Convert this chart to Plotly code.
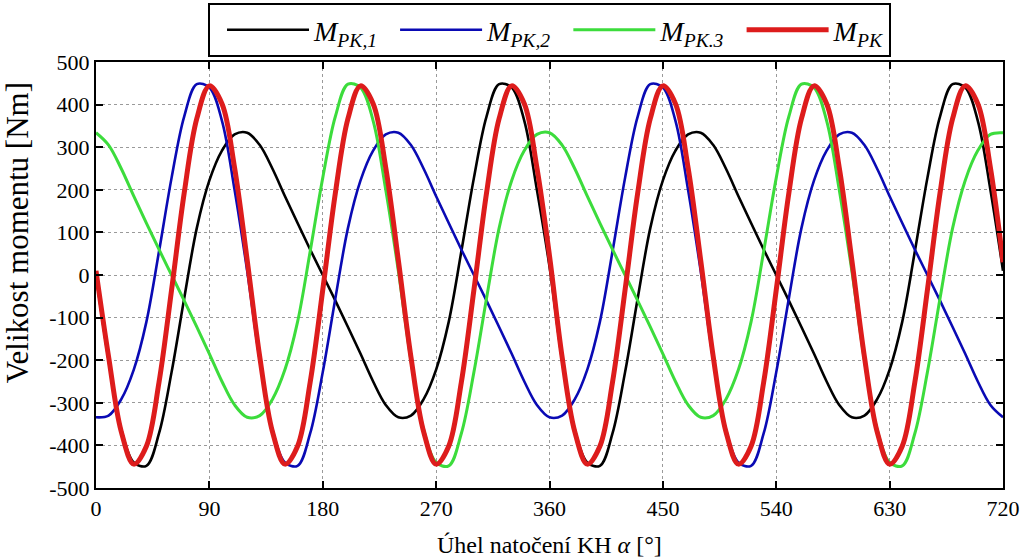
import plotly.graph_objects as go

# crank angle [deg]
angle = list(range(0, 721, 10))

# M_PK,1 (black)
m_pk1 = [0, -200, -362, -440, -448, -372, -228, -55, 110, 222, 292, 330, 334, 305, 250, 185, 122, 60,
         0, -60, -122, -185, -250, -305, -334, -330, -292, -222, -110, 55, 228, 372, 448, 440, 362, 200,
         20, -200, -362, -440, -448, -372, -228, -55, 110, 222, 292, 330, 334, 305, 250, 185, 122, 60,
         0, -60, -122, -185, -250, -305, -334, -330, -292, -222, -110, 55, 228, 372, 448, 440, 362, 200,
         10]

# M_PK,2 (blue)
m_pk2 = [-334, -330, -292, -222, -110, 55, 228, 372, 448, 440, 362, 200,
         10, -200, -362, -440, -448, -372, -228, -55, 110, 222, 292, 330, 334, 305, 250, 185, 122, 60,
         0, -60, -122, -185, -250, -305, -334, -330, -292, -222, -110, 55, 228, 372, 448, 440, 362, 200,
         10, -200, -362, -440, -448, -372, -228, -55, 110, 222, 292, 330, 334, 305, 250, 185, 122, 60,
         0, -60, -122, -185, -250, -305,
         -334]

# M_PK.3 (green)
m_pk3 = [334, 305, 250, 185, 122, 60, 0, -60, -122, -185, -250, -305, -334, -330, -292, -222, -110, 55,
         228, 372, 448, 440, 362, 200,
         10, -200, -362, -440, -448, -372, -228, -55, 110, 222, 292, 330, 334, 305, 250, 185, 122, 60,
         0, -60, -122, -185, -250, -305, -334, -330, -292, -222, -110, 55, 228, 372, 448, 440, 362, 200,
         10, -200, -362, -440, -448, -372, -228, -55, 110, 222, 292, 330,
         334]

# M_PK (red)
m_pk = [10, -192, -367, -444, -402, -252, -35, 192, 367, 444, 402, 252,
        35, -192, -367, -444, -402, -252, -35, 192, 367, 444, 402, 252,
        35, -192, -367, -444, -402, -252, -35, 192, 367, 444, 402, 252,
        45, -192, -367, -444, -402, -252, -35, 192, 367, 444, 402, 252,
        35, -192, -367, -444, -402, -252, -35, 192, 367, 444, 402, 252,
        35, -192, -367, -444, -402, -252, -35, 192, 367, 444, 402, 252,
        30]

x_ticks = [0, 90, 180, 270, 360, 450, 540, 630, 720]
y_ticks = [-500, -400, -300, -200, -100, 0, 100, 200, 300, 400, 500]

series = [
    ("<i>M</i><sub><i>PK,1</i></sub>", m_pk1, "#000000", 2.6),
    ("<i>M</i><sub><i>PK,2</i></sub>", m_pk2, "#0A0AB4", 2.6),
    ("<i>M</i><sub><i>PK.3</i></sub>", m_pk3, "#3CDC3C", 3.0),
    ("<i>M</i><sub><i>PK</i></sub>", m_pk, "#DD1C1C", 5.0),
]

FONT = "Liberation Serif, Times New Roman, serif"

fig = go.Figure()
for name, ys, col, w in series:
    fig.add_trace(go.Scatter(
        x=angle, y=ys, name=name, mode="lines",
        line=dict(color=col, width=w, shape="spline", smoothing=1.0),
    ))

axis_common = dict(
    showline=True, linecolor="black", linewidth=2, mirror="allticks",
    ticks="inside", ticklen=7, tickwidth=2, tickcolor="black",
    showgrid=True, gridcolor="#9a9a9a", gridwidth=1, griddash="dot",
    zeroline=False, tickfont=dict(family=FONT, size=22, color="black"),
)

fig.update_xaxes(range=[0, 720], tickvals=x_ticks, ticktext=[str(v) for v in x_ticks], **axis_common)
fig.update_yaxes(range=[-500, 500], tickvals=y_ticks, ticktext=[str(v) for v in y_ticks], **axis_common)

fig.add_annotation(
    text="Úhel natočení KH <i>α</i> [°]", xref="paper", yref="paper",
    x=0.5, y=-0.134, xanchor="center", yanchor="middle", showarrow=False,
    font=dict(family=FONT, size=24, color="black"),
)
fig.add_annotation(
    text="Velikost momentu [Nm]", xref="paper", yref="paper",
    x=-0.087, y=0.598, xanchor="center", yanchor="middle", showarrow=False,
    textangle=-90, font=dict(family=FONT, size=31, color="black"),
)

fig.update_layout(
    width=1023, height=559,
    margin=dict(l=96, r=20, t=62, b=71, autoexpand=False),
    paper_bgcolor="white", plot_bgcolor="white",
    font=dict(family=FONT, color="black"),
    showlegend=True,
    legend=dict(
        orientation="h", x=0.1235, xanchor="left", y=1.1385, yanchor="top",
        bordercolor="black", borderwidth=2, bgcolor="white",
        font=dict(family=FONT, size=28, color="black"),
        entrywidth=0, itemwidth=82, indentation=12,
    ),
)

fig.write_html("out.html", config={"displayModeBar": False},
               post_script="document.body.style.margin='0px';")
